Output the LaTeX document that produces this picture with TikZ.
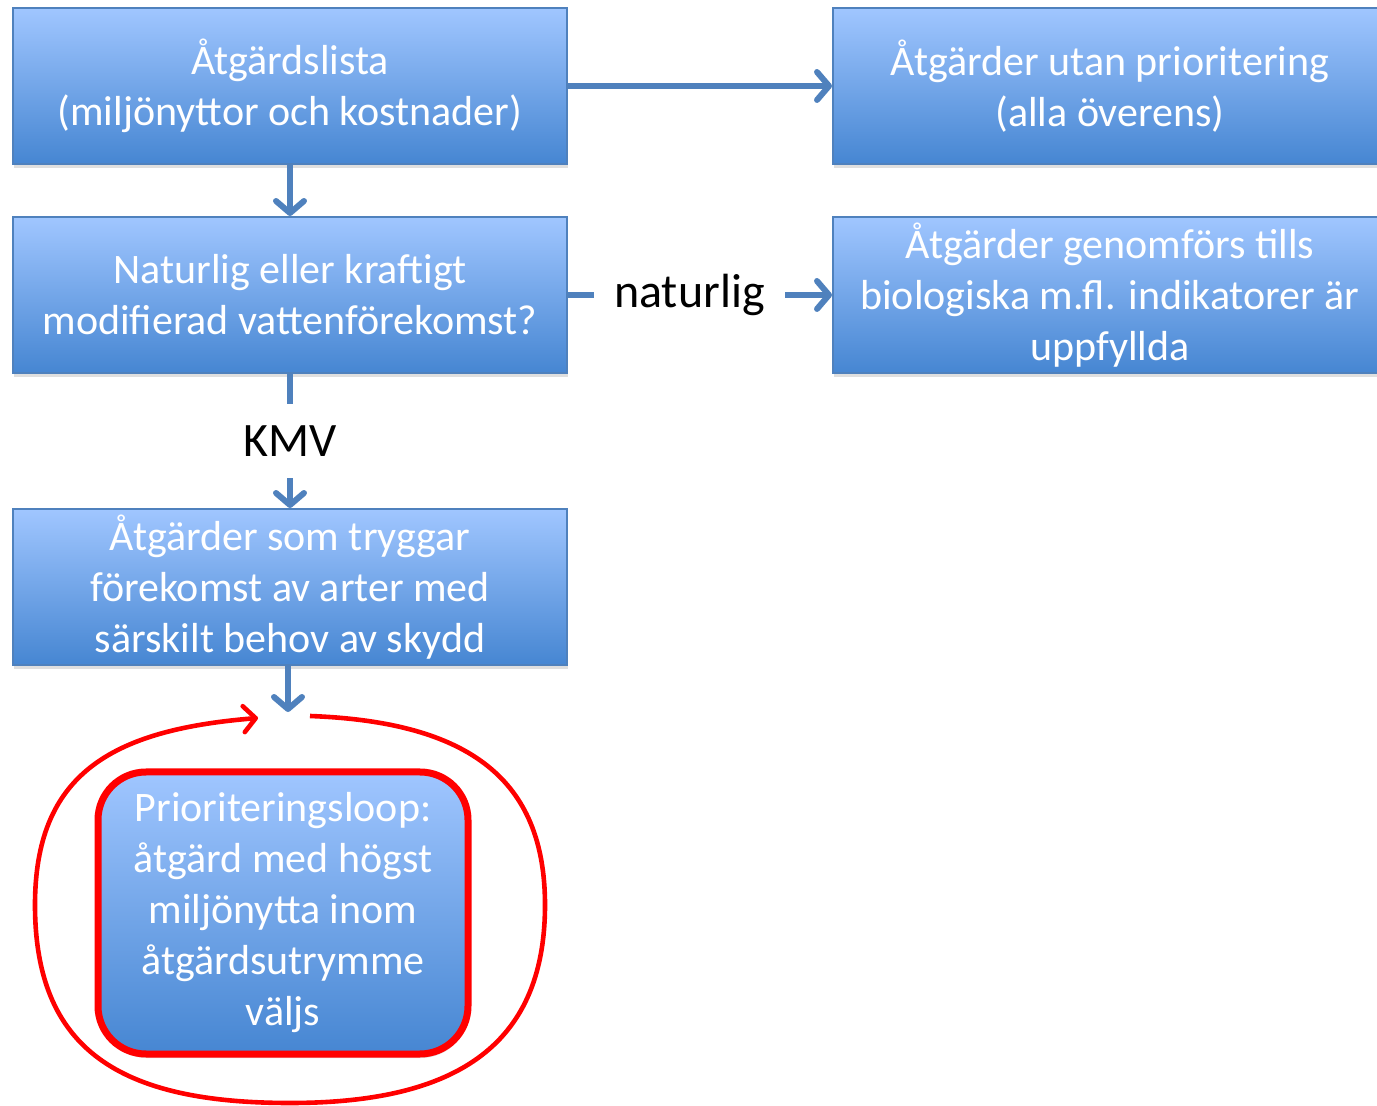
\documentclass[tikz,border=0pt]{standalone}
\usepackage{fontspec}
\setmainfont{Carlito}
\usetikzlibrary{arrows.meta,shadows}
\definecolor{boxtop}{RGB}{160,198,255}
\definecolor{boxbot}{RGB}{70,134,210}
\definecolor{boxline}{RGB}{79,129,189}
\definecolor{loopred}{RGB}{255,0,0}
\tikzset{
  stepbox/.style={draw=boxline, line width=1pt, top color=boxtop, bottom color=boxbot,
    minimum width=277pt, minimum height=78pt, inner sep=0pt, text=white, align=center,
    font=\fontsize{21}{25.5}\selectfont,
    drop shadow={shadow xshift=0.5pt, shadow yshift=-2pt, opacity=0.25}},
  loopbox/.style={stepbox, draw=loopred, line width=3.5pt, rounded corners=24pt,
    minimum width=185pt, minimum height=141pt},
  flow/.style={draw=boxline, line width=3pt, -{Straight Barb[length=6pt,width=14pt,round]}},
  lbl/.style={fill=white, text=black, inner xsep=10pt, inner ysep=11pt,
    font=\fontsize{24}{29}\selectfont},
  redloop/.style={draw=loopred, line width=2.3pt, -{Straight Barb[length=6pt,width=13pt,round]}}
}
\begin{document}
\begin{tikzpicture}[x=0.5pt,y=-0.5pt]
\useasboundingbox (0,0) rectangle (1377,1106);
% boxes
\node[stepbox] (lista) at (290,86) {Åtgärdslista\\(miljönyttor och kostnader)};
\node[stepbox] (utan) at (1110,86) {Åtgärder utan prioritering\\(alla överens)};
\node[stepbox] (typ) at (290,295) {Naturlig eller kraftigt\\modifierad vattenförekomst?};
\node[stepbox] (genom) at (1110,295) {Åtgärder genomförs tills\\biologiska m.fl. indikatorer är\\uppfyllda};
\node[stepbox] (trygg) at (290,587) {Åtgärder som tryggar\\förekomst av arter med\\särskilt behov av skydd};
\node[loopbox] (prio) at (283,913) {Prioriteringsloop:\\åtgärd med högst\\miljönytta inom\\åtgärdsutrymme\\väljs};
% arrows
\coordinate (inloop) at (288,712);
\draw[flow] (lista.east) -- (utan.west);
\draw[flow] (lista.south) -- (typ.north);
\draw[flow] (typ.east) -- node[lbl,pos=0.46] (nat) {naturlig} (genom.west);
\draw[flow] (typ.south) -- node[lbl] (kmv) {KMV} (trygg.north);
\draw[flow] (trygg.south -| inloop) -- (inloop);
% the loop
\coordinate (loopout) at (310,716);
\coordinate (loopback) at (258,718);
\draw[redloop] (loopout) .. controls (470,722) and (545,780) .. (545,905)
  .. controls (545,1050) and (450,1103) .. (290,1103)
  .. controls (120,1103) and (35,1050) .. (35,905)
  .. controls (35,775) and (110,730) .. (loopback);
\end{tikzpicture}
\end{document}
